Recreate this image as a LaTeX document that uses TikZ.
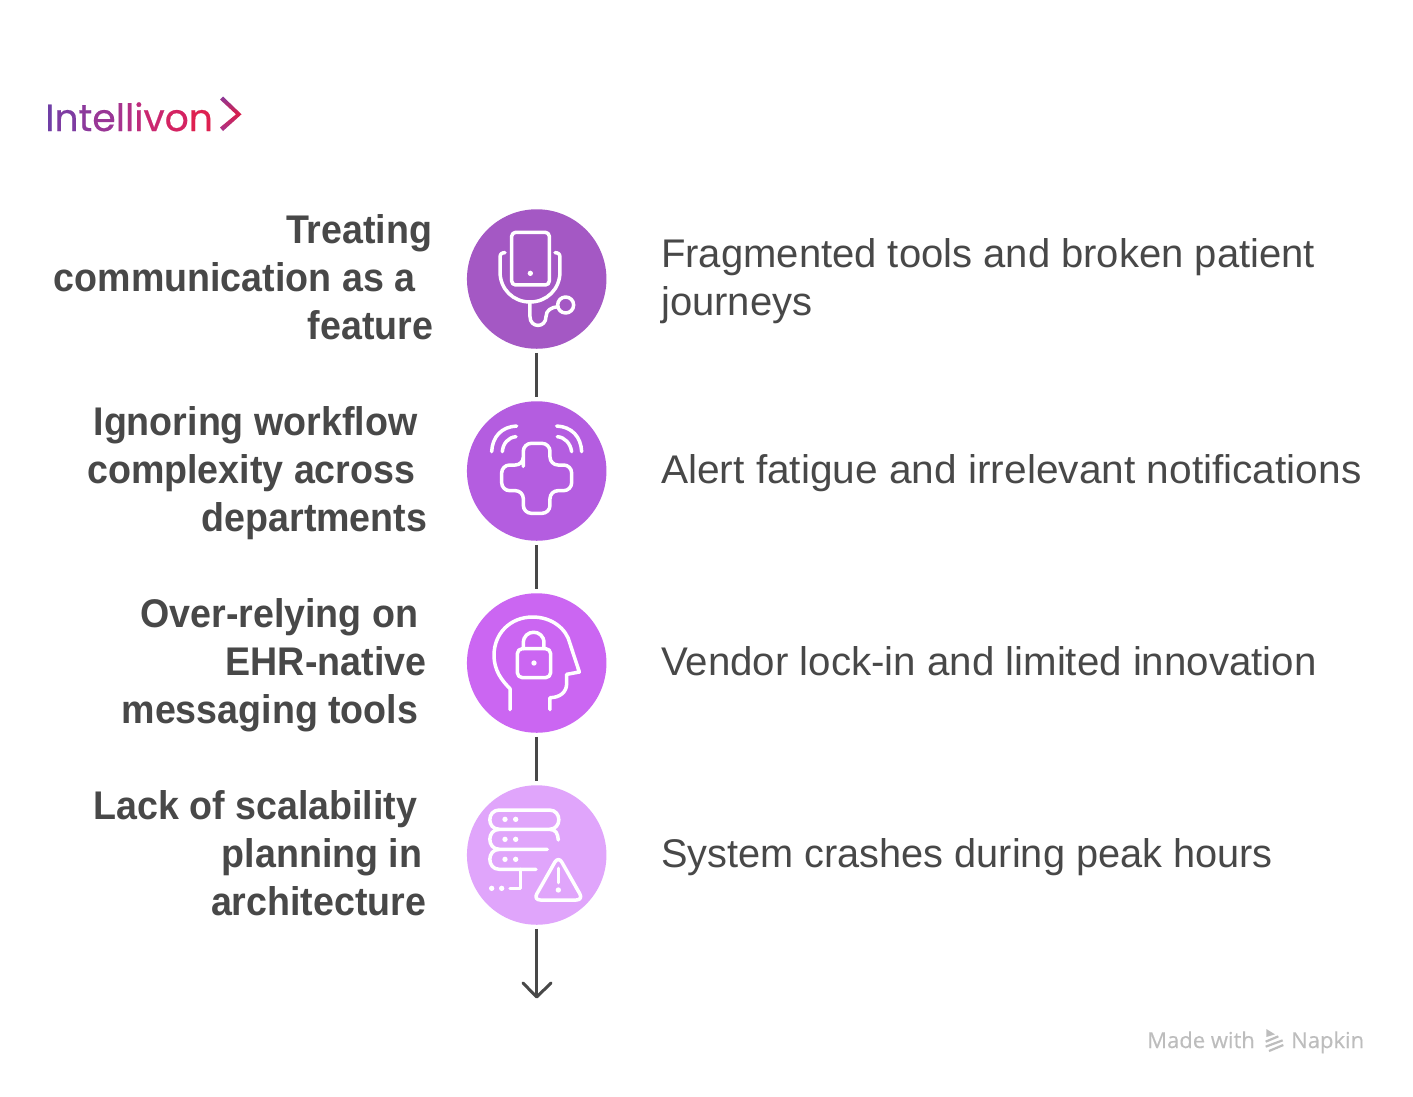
\documentclass[tikz,border=0pt]{standalone}
\usepackage{fontspec}
\setmainfont{Liberation Sans}
\newfontfamily\bodyfont[FakeStretch=1.0]{Liberation Sans}
\newfontfamily\bodyfontB[FakeStretch=1.016]{Liberation Sans}
\newfontfamily\bodyfontC[FakeStretch=1.006]{Liberation Sans}
\newfontfamily\bodyfontD[FakeStretch=0.993]{Liberation Sans}
\newfontfamily\boldfont[FakeStretch=0.94,BoldFont={Liberation Sans Bold}]{Liberation Sans}
\newfontfamily\logofont[FakeBold=0.5]{Poppins}
\newfontfamily\markfont[FakeBold=0.3]{Open Sans}
\definecolor{ink}{HTML}{484848}
\definecolor{cA}{HTML}{A458C4}
\definecolor{cB}{HTML}{B45DE0}
\definecolor{cC}{HTML}{CB66F2}
\definecolor{cD}{HTML}{E0A5FB}
\definecolor{markgrey}{HTML}{BDBDBD}
\definecolor{chevA}{HTML}{8A3A9A}
\definecolor{chevB}{HTML}{D81E4A}
\definecolor{chevC}{HTML}{A5358F}
\newcommand{\lc}[2]{\textcolor[HTML]{#1}{#2}}
\newcommand{\rowgap}[2]{\mbox{#2\kern#1pt}}
\tikzset{
  disc/.style={circle,minimum size=139.5pt,inner sep=0pt,draw=none},
  link/.style={draw=ink,line width=3pt,shorten >=4pt,shorten <=4pt},
  problem/.style={anchor=east,align=right,inner sep=0pt,text=ink,font=\fontsize{40}{48}\selectfont\boldfont\bfseries},
  effect/.style={anchor=west,align=left,inner sep=0pt,text=ink,font=\fontsize{40}{48}\selectfont\bodyfont},
  glyph/.style={draw=white,line width=3.5pt,line cap=round,line join=round},
  dotfill/.style={fill=white,draw=none},
  marktext/.style={inner sep=0pt,text=markgrey,font=\fontsize{22}{26}\selectfont\markfont},
  markline/.style={draw=markgrey,line width=2.2pt}
}
\begin{document}
\begin{tikzpicture}[x=1pt,y=-1pt]
\useasboundingbox (0,0) rectangle (1413,1096);
\fill[white] (0,0) rectangle (1413,1096);

% logo
\node[anchor=base west,inner sep=0pt,font=\fontsize{37.7}{40}\selectfont\logofont] (logo) at (45,131)
 {\lc{703FA6}{I}\lc{7E3CA2}{n}\lc{8C399C}{t}\lc{993696}{e}\lc{A6338E}{l}\lc{B22F86}{l}\lc{BE2B7C}{i}\lc{CA2770}{v}\lc{D42362}{o}\lc{DE2050}{n}};
\shade[top color=chevA,bottom color=chevC,middle color=chevB]
 (220,99.5) -- (223,96.5) -- (241.5,114.3) -- (223,131) -- (220,127.5) -- (236,114.3) -- cycle;

% discs
\node[disc,fill=cA] (d1) at (536.7,279) {};
\node[disc,fill=cB] (d2) at (536.7,471) {};
\node[disc,fill=cC] (d3) at (536.7,663) {};
\node[disc,fill=cD] (d4) at (536.7,855) {};
\coordinate (tail) at (536.7,997);
\draw[link] (d1) -- (d2);
\draw[link] (d2) -- (d3);
\draw[link] (d3) -- (d4);
\draw[link,shorten >=0pt] (d4) -- (tail);
\draw[draw=ink,line width=3pt,line cap=round,line join=round] (523,983) -- (tail) -- (551,983);

% left labels
\node[problem] (p1) at (433.5,282) {\strut\rowgap{1}{Treating}\\\rowgap{18}{communication as a}\\\rowgap{0}{feature}\strut};
\node[problem] (p2) at (427.5,474) {\strut\rowgap{10}{Ignoring workflow}\\\rowgap{12}{complexity across}\\\rowgap{0}{departments}\strut};
\node[problem] (p3) at (426.5,666) {\strut\rowgap{8}{Over-relying on}\\\rowgap{0}{EHR-native}\\\rowgap{8}{messaging tools}\strut};
\node[problem] (p4) at (426.5,858) {\strut\rowgap{9}{Lack of scalability}\\\rowgap{4}{planning in}\\\rowgap{0}{architecture}\strut};

% right labels
\node[effect] (e1) at (661,282) {\strut Fragmented tools and broken patient\\journeys\strut};
\node[effect,font=\fontsize{40}{48}\selectfont\bodyfontB] (e2) at (661,474) {\strut Alert fatigue and irrelevant notifications\strut};
\node[effect,font=\fontsize{40}{48}\selectfont\bodyfontC] (e3) at (661,666) {\strut Vendor lock-in and limited innovation\strut};
\node[effect,font=\fontsize{40}{48}\selectfont\bodyfontD] (e4) at (661,858) {\strut System crashes during peak hours\strut};

% icon 1
\begin{scope}[shift={(460,200)},x=0.3333pt,y=-0.3333pt]
\draw[glyph,rounded corners=4pt] (155,97) rectangle (268,255);
\fill[dotfill] (211,220) circle (8);
\draw[glyph] (135,158) .. controls (125,158) and (120,162) .. (120,172) -- (120,215)
  .. controls (120,268) and (160,306) .. (210,306)
  .. controls (260,306) and (300,268) .. (300,215) -- (300,172)
  .. controls (300,162) and (295,158) .. (285,158);
\draw[glyph] (210,306) -- (210,350) .. controls (210,385) and (258,385) .. (258,350)
  .. controls (258,330) and (275,322) .. (294,320);
\draw[glyph] (317,315) circle (24);
\end{scope}

% icon 2
\begin{scope}[shift={(460,395)},x=0.3333pt,y=-0.3333pt]
\draw[glyph,rounded corners=8pt] (190,190) -- (190,145) -- (270,145) -- (270,210) -- (335,210) -- (335,287) -- (270,287) -- (270,355) -- (190,355) -- (190,287) -- (125,287) -- (125,210) -- (190,210) -- cycle;
\draw[glyph] (95,170) .. controls (97,125) and (125,95) .. (170,93);
\draw[glyph] (127,170) .. controls (129,145) and (145,127) .. (168,125);
\draw[glyph] (290,93) .. controls (335,95) and (363,125) .. (365,170);
\draw[glyph] (292,125) .. controls (315,127) and (331,145) .. (335,170);
\end{scope}

% icon 3
\begin{scope}[shift={(460,587)},x=0.3333pt,y=-0.3333pt]
\draw[glyph] (150,368) -- (150,305) .. controls (125,280) and (102,250) .. (102,205)
  .. controls (102,140) and (150,90) .. (218,90)
  .. controls (275,90) and (320,125) .. (330,170)
  -- (358,255) -- (320,262) -- (320,290)
  .. controls (320,315) and (300,332) .. (270,332) -- (270,368);
\draw[glyph,rounded corners=5pt] (172,185) rectangle (272,272);
\draw[glyph] (190,185) -- (190,168) .. controls (190,125) and (252,125) .. (252,168) -- (252,185);
\fill[dotfill] (222,228) circle (8);
\end{scope}

% icon 4
\begin{scope}[shift={(460,780)},x=0.3333pt,y=-0.3333pt]
\draw[glyph] (295,180) .. controls (293,160) and (288,148) .. (268,148) -- (118,148)
  .. controls (80,148) and (80,90) .. (118,90) -- (268,90)
  .. controls (306,90) and (306,148) .. (268,148);
\draw[glyph] (118,148) .. controls (80,148) and (80,208) .. (118,208) -- (262,208);
\draw[glyph] (118,208) .. controls (80,208) and (80,268) .. (118,268) -- (228,268);
\draw[glyph] (182,268) -- (182,325) -- (150,325);
\foreach \px/\py in {135/118,167/118,135/178,167/178,135/238,167/238,95/325,125/325}
  \fill[dotfill] (\px,\py) circle (8);
\draw[glyph,rounded corners=7pt] (295,228) -- (370,360) -- (220,360) -- cycle;
\draw[glyph] (295,265) -- (295,308);
\fill[dotfill] (295,330) circle (8);
\end{scope}

% made with napkin
\node[marktext,anchor=base east] (made) at (1255,1048) {Made with};
\node[marktext,anchor=base west] (napkin) at (1291,1048) {Napkin};
\begin{scope}[shift={(1135,1015)},x=0.3333pt,y=-0.3333pt]
\fill[markgrey] (394,42) -- (420,58) -- (394,66) -- cycle;
\draw[markline] (392,80) -- (430,64);
\draw[markline] (392,95) -- (443,76);
\draw[markline] (402,108) -- (445,90);
\end{scope}
\end{tikzpicture}
\end{document}
